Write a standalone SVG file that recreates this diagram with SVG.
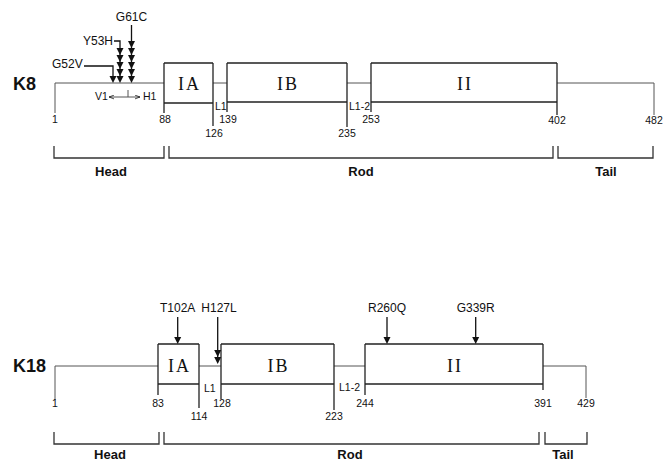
<svg xmlns="http://www.w3.org/2000/svg" width="665" height="462" viewBox="0 0 665 462">
<style>
.bg{fill:#fff}
.thin{fill:none;stroke:#555;stroke-width:1}
.box{fill:none;stroke:#222;stroke-width:1.5}
.ext{fill:none;stroke:#222;stroke-width:1.3}
.brk{fill:none;stroke:#333;stroke-width:1.3}
.arr{fill:none;stroke:#111;stroke-width:1.3}
.num{font-family:"Liberation Sans",Arial,sans-serif;font-size:10.5px;fill:#111;text-anchor:middle}
.lab{font-family:"Liberation Sans",Arial,sans-serif;font-size:10.5px;fill:#111}
.mut{font-family:"Liberation Sans",Arial,sans-serif;font-size:12px;fill:#111}
.k{font-family:"Liberation Sans",Arial,sans-serif;font-size:18px;font-weight:bold;fill:#111}
.dom{font-family:"Liberation Serif","Times New Roman",serif;font-size:18px;fill:#111;text-anchor:middle;letter-spacing:2px}
.reg{font-family:"Liberation Sans",Arial,sans-serif;font-size:13px;font-weight:bold;fill:#111;text-anchor:middle}
.tri{fill:#111}
</style>
<defs>
<path id="tri" d="M-3.5,-7 L3.5,-7 L0,0 Z"/>
<marker id="ah" viewBox="0 0 8 8" refX="8" refY="4" markerWidth="5" markerHeight="5" orient="auto-start-reverse"><path d="M0,1 L8,4 L0,7" fill="none" stroke="#111" stroke-width="1.2"/></marker>
</defs>
<rect class="bg" x="0" y="0" width="665" height="462"/>

<g id="K8">
<text class="k" x="13" y="90">K8</text>
<g id="k8-connectors">
<path class="thin" d="M55,113 V83 H164"/>
<path class="thin" d="M213,83 H227"/>
<path class="thin" d="M347,83 H371"/>
<path class="thin" d="M557,83 H654 V115"/>
</g>
<g id="k8-IA">
<path class="box" d="M164,63 H213 M164,103 H213"/>
<path class="ext" d="M164,63 V113 M213,63 V126"/>
<text class="dom" x="189.5" y="90">IA</text>
</g>
<g id="k8-IB">
<path class="box" d="M227,63 H347 M227,102 H347"/>
<path class="ext" d="M227,63 V112 M347,63 V127"/>
<text class="dom" x="288" y="90">IB</text>
</g>
<g id="k8-II">
<path class="box" d="M371,63 H557 M371,102 H557"/>
<path class="ext" d="M371,63 V112 M557,63 V115"/>
<text class="dom" x="465" y="90">II</text>
</g>
<text class="lab" x="215" y="110">L1</text>
<text class="lab" x="349" y="110">L1-2</text>
<text class="num" x="55" y="123">1</text>
<text class="num" x="165" y="123">88</text>
<text class="num" x="214" y="137">126</text>
<text class="num" x="228" y="123">139</text>
<text class="num" x="347" y="137">235</text>
<text class="num" x="371" y="123">253</text>
<text class="num" x="557" y="124">402</text>
<text class="num" x="654" y="124">482</text>
<g id="k8-v1h1">
<text class="lab" x="95" y="100" font-size="11">V1</text>
<path class="thin" d="M109,97 H140" stroke="#111" marker-start="url(#ah)" marker-end="url(#ah)"/>
<path class="thin" stroke="#111" d="M128,90 V97"/>
<text class="lab" x="143" y="100" font-size="11">H1</text>
</g>
<g id="k8-mutations">
<text class="mut" x="52" y="68">G52V</text>
<path class="arr" d="M84,66 H113 V78"/>
<use href="#tri" class="tri" x="113" y="83"/>
<text class="mut" x="113" y="45" text-anchor="end">Y53H</text>
<path class="arr" d="M114,41 H120 V78"/>
<use href="#tri" class="tri" x="120" y="55"/>
<use href="#tri" class="tri" x="120" y="62"/>
<use href="#tri" class="tri" x="120" y="69"/>
<use href="#tri" class="tri" x="120" y="76"/>
<use href="#tri" class="tri" x="120" y="83"/>
<text class="mut" x="131.5" y="21" text-anchor="middle">G61C</text>
<path class="arr" d="M131.5,25 V78"/>
<use href="#tri" class="tri" x="131.5" y="48"/>
<use href="#tri" class="tri" x="131.5" y="55"/>
<use href="#tri" class="tri" x="131.5" y="62"/>
<use href="#tri" class="tri" x="131.5" y="69"/>
<use href="#tri" class="tri" x="131.5" y="76"/>
<use href="#tri" class="tri" x="131.5" y="83"/>
</g>
<g id="k8-regions">
<path class="brk" d="M54,146 V158 H164 V146"/>
<path class="brk" d="M169,146 V158 H553 V146"/>
<path class="brk" d="M558,146 V158 H653 V146"/>
<text class="reg" x="111" y="176">Head</text>
<text class="reg" x="361" y="176">Rod</text>
<text class="reg" x="606" y="176">Tail</text>
</g>
</g>

<g id="K18">
<text class="k" x="13" y="372">K18</text>
<g id="k18-connectors">
<path class="thin" d="M55,400 V366 H158"/>
<path class="thin" d="M199,366 H221"/>
<path class="thin" d="M334,366 H365"/>
<path class="thin" d="M543,366 H586 V398"/>
</g>
<g id="k18-IA">
<path class="box" d="M158,344 H199 M158,384 H199"/>
<path class="ext" d="M158,344 V395 M199,344 V408"/>
<text class="dom" x="179.5" y="372">IA</text>
</g>
<g id="k18-IB">
<path class="box" d="M221,344 H334 M221,384 H334"/>
<path class="ext" d="M221,344 V399 M334,344 V410"/>
<text class="dom" x="278.5" y="372">IB</text>
</g>
<g id="k18-II">
<path class="box" d="M365,344 H543 M365,384 H543"/>
<path class="ext" d="M365,344 V395 M543,344 V390"/>
<text class="dom" x="455" y="372">II</text>
</g>
<text class="lab" x="204" y="392">L1</text>
<text class="lab" x="339" y="391">L1-2</text>
<text class="num" x="55" y="407">1</text>
<text class="num" x="158" y="407">83</text>
<text class="num" x="199" y="420">114</text>
<text class="num" x="222" y="407">128</text>
<text class="num" x="334" y="420">223</text>
<text class="num" x="365" y="407">244</text>
<text class="num" x="543" y="407">391</text>
<text class="num" x="586" y="407">429</text>
<g id="k18-mutations">
<text class="mut" x="177.7" y="312" text-anchor="middle">T102A</text>
<path class="arr" d="M177.7,317 V339"/>
<use href="#tri" class="tri" x="177.7" y="344"/>
<text class="mut" x="219" y="312" text-anchor="middle">H127L</text>
<path class="arr" d="M217.7,317 V360" stroke-width="2"/>
<use href="#tri" class="tri" x="217.7" y="357"/>
<use href="#tri" class="tri" x="217.7" y="364"/>
<text class="mut" x="387" y="312" text-anchor="middle">R260Q</text>
<path class="arr" d="M387,317 V339"/>
<use href="#tri" class="tri" x="387" y="344"/>
<text class="mut" x="475.7" y="312" text-anchor="middle">G339R</text>
<path class="arr" d="M475.7,317 V339"/>
<use href="#tri" class="tri" x="475.7" y="344"/>
</g>
<g id="k18-regions">
<path class="brk" d="M54,432 V444 H159 V432"/>
<path class="brk" d="M164,432 V444 H539 V432"/>
<path class="brk" d="M545,432 V444 H587 V432"/>
<text class="reg" x="110" y="459">Head</text>
<text class="reg" x="350" y="459">Rod</text>
<text class="reg" x="563" y="459">Tail</text>
</g>
</g>
</svg>
